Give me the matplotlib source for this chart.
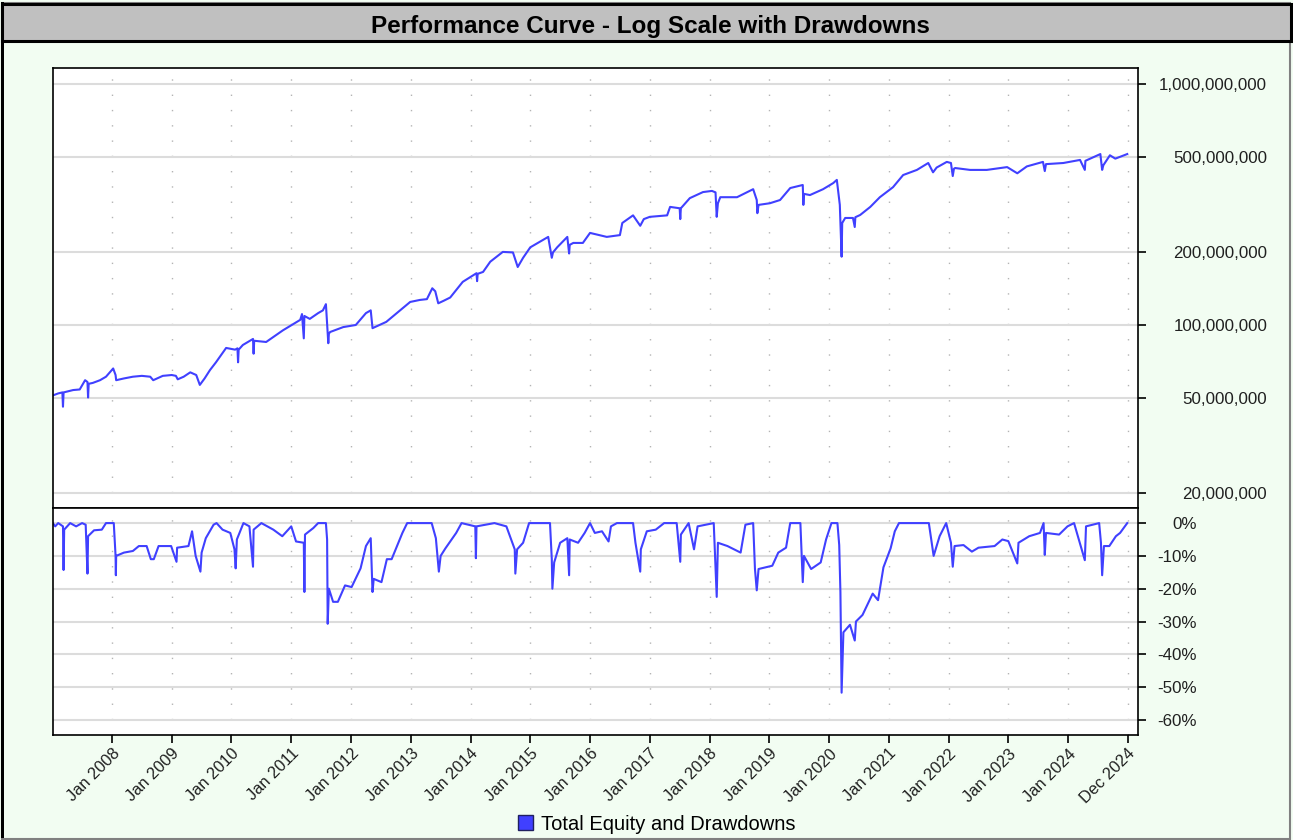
import matplotlib
matplotlib.use("Agg")
import matplotlib.pyplot as plt
from matplotlib.patches import Rectangle, Patch
from matplotlib.ticker import FixedLocator, FuncFormatter, NullLocator

plt.rcParams['font.family'] = ['Liberation Sans', 'DejaVu Sans']

# equity curve, decimal year vs. equity in millions
eq_year = [2007.01, 2007.10, 2007.17, 2007.18, 2007.19, 2007.35, 2007.46, 2007.55, 2007.59, 2007.60,
           2007.61, 2007.68, 2007.80, 2007.90, 2008.02, 2008.06, 2008.07, 2008.20, 2008.35, 2008.50,
           2008.64, 2008.69, 2008.85, 2009.00, 2009.07, 2009.10, 2009.20, 2009.31, 2009.41, 2009.47,
           2009.55, 2009.64, 2009.74, 2009.91, 2010.06, 2010.10, 2010.11, 2010.12, 2010.19, 2010.36,
           2010.37, 2010.38, 2010.58, 2010.86, 2011.15, 2011.18, 2011.21, 2011.22, 2011.31, 2011.45,
           2011.53, 2011.58, 2011.62, 2011.63, 2011.65, 2011.87, 2012.08, 2012.25, 2012.33, 2012.36,
           2012.40, 2012.59, 2012.82, 2012.99, 2013.15, 2013.27, 2013.36, 2013.41, 2013.46, 2013.55,
           2013.66, 2013.87, 2014.10, 2014.11, 2014.12, 2014.21, 2014.33, 2014.54, 2014.71, 2014.79,
           2014.88, 2015.00, 2015.21, 2015.30, 2015.36, 2015.38, 2015.45, 2015.62, 2015.65, 2015.66,
           2015.72, 2015.88, 2016.00, 2016.28, 2016.50, 2016.54, 2016.72, 2016.84, 2016.90, 2017.00,
           2017.29, 2017.34, 2017.50, 2017.51, 2017.52, 2017.67, 2017.89, 2018.04, 2018.10, 2018.12,
           2018.14, 2018.18, 2018.46, 2018.73, 2018.79, 2018.80, 2018.82, 2019.01, 2019.18, 2019.35,
           2019.56, 2019.57, 2019.58, 2019.68, 2019.90, 2020.07, 2020.13, 2020.18, 2020.21, 2020.22,
           2020.27, 2020.40, 2020.43, 2020.44, 2020.52, 2020.69, 2020.85, 2021.07, 2021.24, 2021.47,
           2021.66, 2021.74, 2021.80, 2021.97, 2022.04, 2022.07, 2022.09, 2022.11, 2022.36, 2022.64,
           2022.98, 2023.15, 2023.31, 2023.58, 2023.61, 2023.63, 2023.92, 2024.20, 2024.28, 2024.29,
           2024.54, 2024.57, 2024.59, 2024.70, 2024.79, 2024.99]
eq_musd = [51, 52, 52.5, 45.8, 52.5, 53.7, 54, 59, 58, 50,
           57, 57.5, 59, 61, 66, 62, 59, 60, 61, 61.5,
           61, 59, 61.5, 62, 61.5, 59.5, 61, 63.6, 62, 56.4,
           60, 65, 70, 80.3, 79, 80, 70, 79, 82.6, 87.5,
           76, 86, 85, 95, 105, 111, 88, 109, 106, 112,
           115, 122, 84, 92, 93.5, 98, 100, 112, 115, 97,
           98, 103, 115, 124.6, 127, 128, 142, 138, 123, 126,
           130, 151, 164, 152, 163, 166, 183, 201, 200, 174,
           190, 210, 225, 232, 190, 200, 210, 232, 198, 215,
           219, 219, 241, 232, 236, 265, 285, 258, 275, 281,
           285, 309, 305, 275, 305, 336, 356, 360, 355, 281,
           320, 339, 339, 366, 330, 291, 315, 320, 330, 370,
           381, 315, 350, 346, 366, 388, 400, 315, 192, 265,
           278, 278, 255, 280, 286, 309, 339, 373, 419, 440,
           470, 430, 450, 475, 470, 415, 445, 448, 440, 440,
           452, 426, 455, 475, 435, 465, 470, 484, 440, 480,
           512, 440, 460, 506, 490, 512]

# drawdown from the running peak, percent
dd_year = [2007.01, 2007.05, 2007.10, 2007.18, 2007.19, 2007.20, 2007.30, 2007.40, 2007.50, 2007.56,
           2007.59, 2007.60, 2007.70, 2007.83, 2007.90, 2008.03, 2008.06, 2008.065, 2008.07, 2008.20,
           2008.35, 2008.45, 2008.58, 2008.65, 2008.70, 2008.78, 2008.99, 2009.08, 2009.09, 2009.28,
           2009.34, 2009.40, 2009.48, 2009.50, 2009.57, 2009.70, 2009.75, 2009.85, 2009.98, 2010.05,
           2010.07, 2010.09, 2010.20, 2010.30, 2010.36, 2010.37, 2010.50, 2010.70, 2010.85, 2011.00,
           2011.08, 2011.21, 2011.22, 2011.23, 2011.37, 2011.45, 2011.58, 2011.60, 2011.61, 2011.63,
           2011.70, 2011.78, 2011.90, 2012.01, 2012.16, 2012.25, 2012.33, 2012.36, 2012.38, 2012.51,
           2012.60, 2012.68, 2012.86, 2012.94, 2013.35, 2013.42, 2013.47, 2013.50, 2013.58, 2013.76,
           2013.85, 2014.08, 2014.09, 2014.10, 2014.40, 2014.60, 2014.74, 2014.75, 2014.78, 2014.88,
           2014.98, 2015.33, 2015.36, 2015.37, 2015.40, 2015.50, 2015.62, 2015.65, 2015.66, 2015.80,
           2015.91, 2016.00, 2016.08, 2016.20, 2016.31, 2016.35, 2016.45, 2016.72, 2016.76, 2016.84,
           2016.85, 2016.95, 2017.10, 2017.24, 2017.45, 2017.51, 2017.52, 2017.65, 2017.74, 2017.80,
           2018.07, 2018.10, 2018.12, 2018.14, 2018.30, 2018.52, 2018.60, 2018.73, 2018.76, 2018.79,
           2018.82, 2019.05, 2019.15, 2019.28, 2019.35, 2019.52, 2019.56, 2019.58, 2019.70, 2019.86,
           2019.95, 2020.04, 2020.14, 2020.17, 2020.19, 2020.21, 2020.24, 2020.35, 2020.43, 2020.45,
           2020.56, 2020.73, 2020.82, 2020.91, 2021.03, 2021.10, 2021.17, 2021.67, 2021.75, 2021.85,
           2021.96, 2022.04, 2022.07, 2022.10, 2022.25, 2022.39, 2022.50, 2022.77, 2022.90, 2023.00,
           2023.15, 2023.17, 2023.35, 2023.53, 2023.59, 2023.61, 2023.63, 2023.85, 2023.99, 2024.10,
           2024.28, 2024.30, 2024.52, 2024.55, 2024.57, 2024.60, 2024.69, 2024.80, 2024.87, 2024.99]
dd_pct = [0, -1, 0, -1, -14.3, -2, 0, -1, 0, -0.5,
          -15.4, -4, -2.2, -2, 0, 0, -10, -15.9, -10, -9,
          -8.5, -7, -7, -11, -11, -7, -7, -11.8, -7.5, -7,
          -2.5, -10, -14.8, -9, -4.6, -0.5, 0, -2, -3, -8,
          -13.8, -5, 0, -1, -13.3, -2, 0, -2, -4, -1,
          -5.6, -6, -21, -3.5, -1.5, 0, 0, -5, -30.7, -20,
          -24, -24, -19, -19.5, -13.8, -7, -4.6, -21, -17, -18,
          -11, -11, -3, 0, 0, -4.6, -14.8, -10, -7.7, -3,
          0, -1, -10.7, -1, 0, -1, -8, -15.4, -8, -6,
          0, 0, -11, -20, -12, -6, -4.6, -15.9, -5, -6,
          -3, 0, -3, -2.5, -5.6, -1, 0, 0, -6, -14.8,
          -8, -2.5, -2, 0, 0, -11.8, -3.5, 0, -8, -1,
          0, -13.3, -22.5, -6, -7, -9, -0.5, 0, -14, -20.5,
          -14, -13, -9, -7.5, 0, 0, -18, -10, -14, -12,
          -5, 0, 0, -6.7, -21, -51.7, -33.3, -31, -35.8, -30,
          -28, -21.5, -23.5, -13.5, -7.7, -2.5, 0, 0, -10, -4,
          0, -6, -13.3, -7, -6.7, -8.7, -7.5, -7, -5, -5.5,
          -12.3, -6, -4, -3, 0, -9.7, -3, -3.5, -1, 0,
          -11.3, -1, 0, -6, -15.9, -7, -7, -4, -3, 0]

eq_ticks = [20e6, 50e6, 100e6, 200e6, 500e6, 1000e6]
dd_ticks = [0, -10, -20, -30, -40, -50, -60]
x_ticks = [2008, 2009, 2010, 2011, 2012, 2013, 2014, 2015, 2016, 2017,
           2018, 2019, 2020, 2021, 2022, 2023, 2024, 2024.997]
x_labels = ['Jan 2008', 'Jan 2009', 'Jan 2010', 'Jan 2011', 'Jan 2012', 'Jan 2013',
            'Jan 2014', 'Jan 2015', 'Jan 2016', 'Jan 2017', 'Jan 2018', 'Jan 2019',
            'Jan 2020', 'Jan 2021', 'Jan 2022', 'Jan 2023', 'Jan 2024', 'Dec 2024']

blue = '#4040ff'
W, H = 1293, 840
fig = plt.figure(figsize=(W / 100, H / 100), dpi=100, facecolor='#f2fdf2')

# frame and title bar
fig.add_artist(Rectangle((1.5 / W, 1.5 / H), (W - 5) / W, (H - 4) / H, transform=fig.transFigure,
                         facecolor='none', edgecolor='#808080', lw=1.5))
fig.add_artist(Rectangle((1 / W, 2 / H), 2.5 / W, (H - 4) / H, transform=fig.transFigure,
                         facecolor='black', edgecolor='none'))
fig.add_artist(Rectangle((1.5 / W, 1 - 41 / H), (W - 4) / W, 37 / H, transform=fig.transFigure,
                         facecolor='#c0c0c0', edgecolor='black', lw=2.2))
fig.text(650 / W, 1 - 26 / H, 'Performance Curve - Log Scale with Drawdowns',
         ha='center', va='center', fontsize=17.5, fontweight='bold')

left, right = 53 / W, 1138 / W
ax1 = fig.add_axes([left, 1 - 508 / H, right - left, 440 / H])
ax2 = fig.add_axes([left, 1 - 735 / H, right - left, 227 / H])

xlim = (2007.013, 2025.17)

ax1.plot(eq_year, [v * 1e6 for v in eq_musd], color=blue, lw=1.5)
ax1.set_yscale('log')
ax1.set_ylim(1.74e7, 1.165e9)
ax1.yaxis.set_major_locator(FixedLocator(eq_ticks))
ax1.yaxis.set_minor_locator(NullLocator())
ax1.yaxis.set_major_formatter(FuncFormatter(lambda v, p: f'{v:,.0f}'))

ax2.plot(dd_year, dd_pct, color=blue, lw=1.5)
ax2.set_ylim(-64.6, 4.6)
ax2.set_yticks(dd_ticks)
ax2.yaxis.set_major_formatter(FuncFormatter(lambda v, p: f'{v:.0f}%'))

for ax, pad in ((ax1, 87), (ax2, 36.5)):
    ax.set_facecolor('white')
    ax.set_xlim(*xlim)
    ax.set_xticks(x_ticks)
    ax.yaxis.tick_right()
    ax.tick_params(axis='y', direction='out', length=6, width=1.2, pad=pad,
                   labelsize=12.2, labelcolor='#202020')
    for lbl in ax.get_yticklabels():
        lbl.set_horizontalalignment('right')
    ax.grid(axis='y', color='#dcdcdc', lw=1.5)
    ax.grid(axis='x', color='#b4b4b4', lw=1, linestyle=(0, (1, 10)))
    ax.set_axisbelow(True)
    for s in ax.spines.values():
        s.set_linewidth(1.2)

ax1.tick_params(axis='x', length=0, labelbottom=False)
ax2.set_xticklabels(x_labels)
ax2.tick_params(axis='x', direction='out', length=6, width=1.2, labelsize=11.8, labelcolor='#202020', pad=2)
for lbl in ax2.get_xticklabels():
    lbl.set_rotation(45)
    lbl.set_ha('right')
    lbl.set_rotation_mode('anchor')

fig.legend(handles=[Patch(facecolor=blue, edgecolor='#202060', label='Total Equity and Drawdowns')],
           loc='center', bbox_to_anchor=(657 / W, 1 - 824 / H), frameon=False,
           fontsize=14.5, handlelength=0.75, handleheight=0.75, handletextpad=0.4)

fig.savefig('out.png', dpi=100, facecolor=fig.get_facecolor())
